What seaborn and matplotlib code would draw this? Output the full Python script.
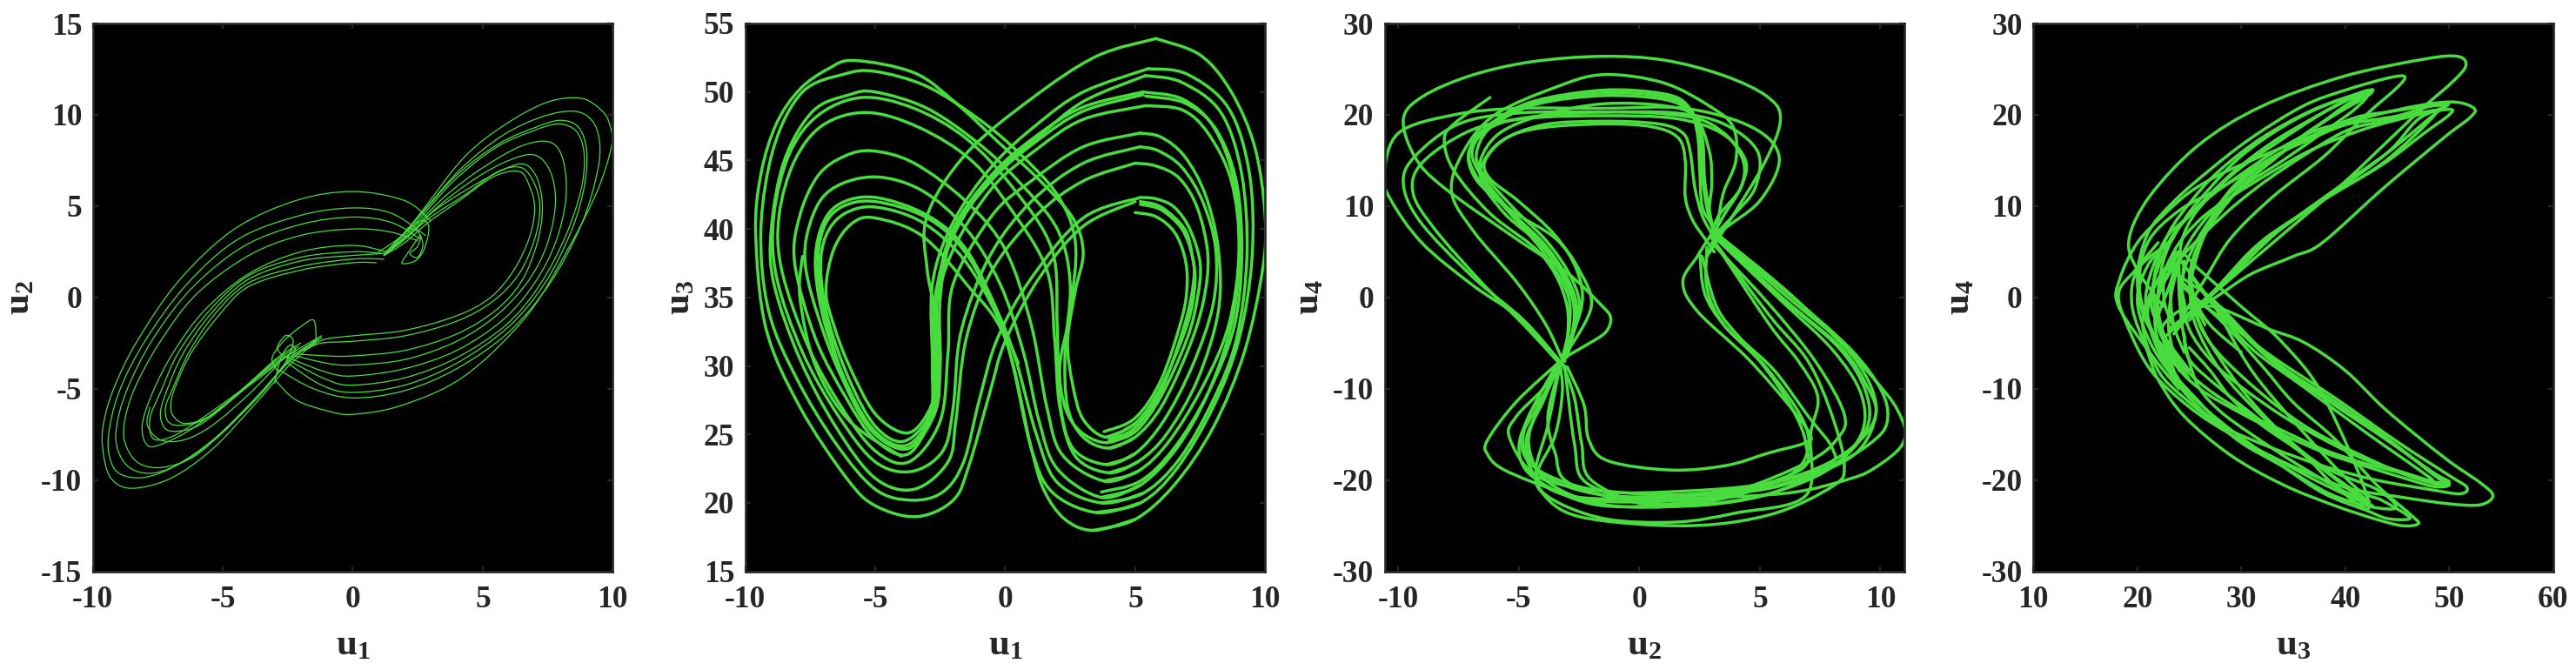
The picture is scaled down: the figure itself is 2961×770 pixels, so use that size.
import matplotlib
matplotlib.use("Agg")
import matplotlib.pyplot as plt
import matplotlib.patheffects as pe
from matplotlib.path import Path
import numpy as np
import pandas as pd
import seaborn as sns

# ---------- panel 1: u1 / u2, hand-read traces ----------
a1x=[-3,-2.2,-1,0,1.9,4.3,6.7,8.3,9.4,9.96,9.9,9.6,8.8,7.5,5.9,4.3,2.7,1.9,1]
a1y=[-4.5,-5.6,-6.2,-6.4,-5.9,-4.3,-1,2.7,5.8,8.3,9.4,10.2,10.9,10.7,9.5,7.7,4.8,3.4,2.5]
a2x=[-2.8,-1.5,0,2,4,6,7.6,8.8,9.4,9.5,9.2,8.5,7.3,5.8,4.2,2.7,1.5]
a2y=[-4,-5,-5.5,-5.1,-3.9,-1.9,0.8,4,6.8,8.5,9.7,10.2,9.9,8.9,7.1,4.7,2.7]
a3x=[-2.5,-1.2,0,2,4,6,7.4,8.4,8.9,9,8.7,8,7,5.6,4,2.6,1.3]
a3y=[-3.6,-4.8,-5.2,-4.8,-3.6,-1.6,0.8,3.6,6,8,9.3,9.7,9.3,8.4,6.7,4.5,2.5]
a4x=[-2.4,-1,0,2,4,5.9,7.2,8.2,8.8,8.9,8.6,7.9,6.9,5.5,3.9,2.5,1.2]
a4y=[-3.5,-4.5,-4.8,-4.4,-3.3,-1.5,0.7,3.4,6,7.9,9.1,9.5,9.1,8.2,6.4,4.2,2.4]
a5x=[-2.3,-1,0,2,4,5.8,7,7.8,8.2,8.1,7.6,6.5,5,3.6,2.4,1.3]
a5y=[-3.4,-4.1,-4.3,-3.9,-2.9,-1.2,0.8,3,5.4,7.5,8.5,8.3,7.1,5.6,3.9,2.4]
a6x=[-2.2,-1,0,2,4,5.6,6.8,7.5,7.8,7.6,7,6,4.7,3.3,2.2,1.2]
a6y=[-3.2,-3.6,-3.7,-3.4,-2.4,-0.9,1,3,5.2,6.9,7.8,7.5,6.5,5,3.5,2.3]
a7x=[-2.1,-1,0,2,4,5.5,6.5,7.1,7.3,7.1,6.6,5.8,4.5,3.1,2.1,1.2]
a7y=[-3.1,-3.2,-3.2,-2.9,-2,-0.7,0.9,3,4.9,6.5,7.3,7,6,4.7,3.3,2.3]
a8x=[-1.9,-1.2,0,2,4,5.4,6.4,7,7.2,7,6.5,5.6,4.3,3,2,1.2]
a8y=[-2.9,-2.5,-2.4,-2.1,-1.3,-0.2,1.3,3.2,4.9,6.2,7.1,6.9,5.6,4.4,3.2,2.3]
a9x=[-1.7,-1.1,0,2,4,5.3,6.2,6.8,7,6.8,6.4,5.4,4.1,2.9,2,1.2]
a9y=[-2.8,-2.3,-2.1,-1.8,-1,0,1.5,3.3,4.9,6.1,6.9,6.6,5.3,4.1,3,2.3]
a10x=[1.2,2,2.6,2.9,2.9,2.7,2.4,2,1.9,2.2,2.6,2.5,2.2,2.5,2.7,2.5,2.1]
a10y=[2.3,3.5,4.2,4,3.4,2.5,2,1.85,1.95,2.6,3.4,2.8,2.4,2.2,2.9,3.6,3.8]
b1x=[3,2,0,-2.2,-4.6,-6.7,-8.3,-9.2,-9.6,-9.6,-9.3,-8.5,-7,-5.4,-3.8,-2.5,-1.4]
b1y=[4.2,5.3,5.8,5.3,3.7,.9,-2.4,-5,-7,-8.5,-9.9,-10.45,-9.9,-8.3,-5.9,-3.8,-2.4]
b2x=[2.8,1.5,0,-2,-4.4,-6.4,-8,-9,-9.4,-9.3,-8.9,-8,-6.8,-5.3,-3.8,-2.5,-1.4]
b2y=[3.4,4.6,4.9,4.5,3.2,.7,-2.4,-5.2,-7.6,-9,-9.7,-9.85,-9.2,-7.7,-5.6,-3.6,-2.3]
b3x=[2.6,1.5,0,-2,-4.2,-6.2,-7.7,-8.7,-9.1,-9,-8.5,-7.6,-6.4,-5,-3.6,-2.4,-1.3]
b3y=[3.2,4.1,4.4,4,2.8,.5,-2.3,-5.1,-7.2,-8.5,-9.4,-9.6,-8.9,-7.4,-5.3,-3.4,-2.3]
b4x=[2.5,1.4,0,-2,-4,-6,-7.4,-8.4,-8.8,-8.7,-8.2,-7.3,-6.1,-4.8,-3.4,-2.4,-1.2]
b4y=[3.1,3.6,3.75,3.4,2.3,.2,-2.4,-5,-7,-8.2,-9.1,-9.3,-8.7,-7.1,-5.1,-3.3,-2.2]
b5x=[1.3,0,-2,-4,-5.7,-6.9,-7.7,-8.1,-7.9,-7.3,-6.2,-4.8,-3.4,-2.4,-1.2]
b5y=[2.5,2.85,2.5,1.3,-.7,-3,-5.2,-7,-8.1,-8,-7.2,-5.7,-4.2,-3.1,-2.1]
b6x=[1.2,0,-2,-4,-5.5,-6.7,-7.4,-7.8,-7.7,-7.1,-6.2,-4.6,-3.3,-2.3]
b6y=[2.4,2.5,2.2,1.2,-.7,-3,-5.2,-6.6,-7.7,-7.7,-7,-5.4,-4,-3]
b7x=[1.2,0,-2,-4,-5.4,-6.5,-7.1,-7.4,-7.2,-6.6,-5.8,-4.4,-3.2,-2.2]
b7y=[2.4,2.3,2,1,-.8,-3,-4.9,-6.3,-7.2,-7.3,-6.9,-5.3,-3.8,-2.9]
b8x=[1.2,0,-2,-4,-5.3,-6.3,-6.9,-7.2,-7.1,-6.6,-5.6,-4.2,-3,-2.1]
b8y=[2.1,2.1,1.7,.8,-.9,-3,-4.9,-6,-6.8,-7,-6.6,-5,-3.5,-2.7]
b9x=[0.9,0,-2,-4,-5.1,-6.2,-6.8,-7,-6.9,-6.4,-5.4,-4,-2.9,-2]
b9y=[1.9,1.9,1.5,.6,-.9,-3,-4.8,-5.8,-6.5,-6.9,-6.4,-4.7,-3.3,-2.5]
b10x=[-7.8,-7.9,-7.4,-6.5,-5.4,-4,-2.9]
b10y=[-6,-7,-7.8,-7.8,-7,-5.3,-3.7]
b11x=[-1.4,-1.5,-2,-2.6,-3,-3.1,-2.8,-2.4,-2.3,-2.6,-2.9,-2.5,-2.2,-2.4,-2.7,-2.9,-3]
b11y=[-2.4,-1.25,-1.6,-2.3,-3,-3.5,-4,-3,-2.3,-2.1,-2.8,-3.3,-2.9,-2.6,-3.1,-4,-4.7]
PANEL1=[(a1x,a1y),(a2x,a2y),(a3x,a3y),(a4x,a4y),(a5x,a5y),(a6x,a6y),(a7x,a7y),(a8x,a8y),(a9x,a9y),(a10x,a10y),
        (b1x,b1y),(b2x,b2y),(b3x,b3y),(b4x,b4y),(b5x,b5y),(b6x,b6y),(b7x,b7y),(b8x,b8y),(b9x,b9y),(b10x,b10y),(b11x,b11y)]

# ---------- panel 2: u1 / u3 ----------
c1x=[5,3,1.3,0,-.6,-1.4,-2,-3.4,-5,-6.1,-7.9,-9.2,-9.6,-9.4,-8.8,-7.9,-6.8,-5.8,-3.5,-1.9,-.3,1.3,2.6,3,2.7,2.4,2.6,3,3.9,5]
c1y=[42,40.2,36.4,31.8,28,22.7,20.2,19,19.8,21.8,27,32.7,39.6,44,47.7,50.2,51.7,52.3,51.4,49.2,46.4,43.6,40.8,38.3,35.5,31.8,28.6,26.1,24.8,25.8]
c2x=[5.2,3,1,-.3,-1,-1.6,-2.4,-3.6,-5,-6.5,-8,-9.1,-9.4,-8.9,-7.8,-6.2,-5,-3,-1,.5,2,2.7,2.5,2.1,2.3,2.9,3.9,5]
c2y=[42.3,40.8,36.4,32,27.5,23,20.8,20.2,21,24.3,29,34,40,46,50,51.3,51.5,50.4,48,45.6,42.5,39,34,30,27,25.2,24.4,25.2]
c3x=[5,3,1.2,-.5,-1.5,-1.9,-2.2,-3.5,-5,-6.5,-7.9,-8.9,-9,-8.5,-7.4,-6,-5,-3,-1,.5,2,2.5,2.3,2.4,3,4,5]
c3y=[44.8,43.5,41,37,32,26,23,21,21.8,25.5,30.5,36,40,45,48.6,49.8,50,48.8,46.2,43.5,40,36,31,27,24.8,24,24.8]
c4x=[5.2,3,1,-.6,-1.7,-2,-2.4,-3.6,-5,-6.4,-7.8,-8.8,-8.9,-8.3,-7.2,-5.5,-3.5,-1.5,.3,1.8,2,2.1,2.6,3.9,5]
c4y=[46,44.8,42,38,32.5,27,23.8,22.3,23,26.3,31,36.5,41,45.5,48.3,49.6,48.8,46.6,43,38.5,33,27.5,24,22.8,23.6]
c5x=[5.2,3,1,-.5,-2,-2.2,-2.5,-3.7,-5,-6.3,-7.6,-8.6,-8.7,-8.1,-7,-5.3,-3.3,-1.3,.2,1.6,1.9,2.1,2.7,4,5.1]
c5y=[47,46,43.5,41,36,31,26,23,23.8,27,31.5,37,41,45,47.6,48.5,47.4,45,41.5,37,32,27,23.4,22.2,23]
c6x=[5.4,3,1.2,-.5,-2,-2.7,-2.6,-2.7,-3.7,-5,-6.1,-7.3,-8.1,-7.9,-7.2,-6.2,-5.1,-3.5,-1.5,0,1,1.6,2.2,3.8,5.1]
c6y=[49,48,45.8,43,38.5,34,30,27,23.6,24.6,27.6,32,37.5,41,43.9,45.3,45.7,44.8,42,38.5,33,27,23.5,21.6,22.3]
c7x=[5.4,3,1.2,-.5,-2,-2.7,-2.7,-2.8,-3.7,-5,-6,-7,-7.7,-7.4,-6.6,-5,-3.2,-1.5,-.2,.7,1.3,2,3.7,5.2]
c7y=[51.2,49.3,46.6,43.8,39.5,35,30,26.8,24,25,28,32.5,37.5,41,43,43.8,42.8,40,36,31,26,22.5,20.4,21.3]
c8x=[5.3,3,1.2,-.5,-2,-2.6,-2.6,-2.8,-3.8,-5,-6,-6.9,-7.3,-7.1,-6.4,-5,-3,-1.5,-.3,.4,1.2,2,3.7,5.3]
c8y=[50,48.9,46.8,44,40,35.5,30,26.5,24.2,25.2,28.3,32.8,37,40,41.8,42.3,41,38.5,34,30.5,25,21.5,20,20.7]
c9x=[5.5,3,1.2,-.5,-2,-2.8,-2.8,-2.9,-3.9,-5,-6,-6.8,-7.1,-6.9,-6.2,-5,-3.2,-1.6,-.3,.3,1,1.8,3.5,5.2]
c9y=[51.7,50,47.6,44.6,40.5,36,30,26.5,24.5,25.6,29,33.3,37,39.5,41.1,41.6,40.5,37.8,33.6,30,24,20.8,19.3,20]
c10x=[5.8,3.5,1,-1.5,-3,-3,-2.6,-2.6,-3,-3.8,-5,-6,-6.6,-6.9,-6.6,-5.9,-5,-3.2,-1.5,0,1,1.5,2.3,3.4,5]
c10y=[53.9,52.6,49.5,45.5,41,37,33,29,26.5,25.1,26.5,30,33,35.5,38.5,40.4,40.8,39.5,36,32,24,20.9,18.8,18,18.8]
c11x=[-7.8,-7.9,-7.3,-6,-4]
c11y=[38,35,30,26,23.4]
c12x=[5.3,3,1.2,-.5,-2,-2.5,-2.5,-2.7,-3.7,-5,-6,-6.8,-7.2,-7,-6.3,-5,-3,-1.5,-.3,.5]
c12y=[49.8,48.6,46.4,43.6,39.7,35,30,26.6,24,25,28,32.7,37,40,41.6,42,40.8,38.2,33.8,30.2]
d1x=[3.4,5,6.5,8,9.2,9.9,10,9.6,8.7,7.5,5.8]
d1y=[18,18.8,21.3,25.5,31,37,41,46,50,52.7,53.9]
d2x=[3.5,5.2,6.6,8,9,9.5,9.4,8.6,7,5.5]
d2y=[19.3,20,22.5,27,32,38,44,48.8,51.3,51.7]
d3x=[3.7,5.3,6.7,8,8.9,9.3,9.1,8.3,6.8,5.4]
d3y=[20,20.7,23.2,27.5,32,38,44,48.5,50.7,51.2]
d4x=[3.7,5.2,6.6,7.8,8.7,9,8.8,8,6.8,5.3]
d4y=[20.4,21.3,24,28,33,38,43.5,47.5,49.5,50]
d5x=[3.8,5.1,6.3,7.6,8.6,9,8.7,7.8,6.8,5.4]
d5y=[21.6,22.3,24.5,28.5,33,38.5,43.5,47,48.7,49]
d6x=[4,5.1,6.2,7.4,8.2,8.2,7.7,6.9,6,5.2]
d6y=[22.2,23,25,29,34,38.5,42.5,45.3,46.7,47]
d7x=[3.9,5,6.1,7.2,8,8.1,7.6,6.8,5.9,5.2]
d7y=[22.8,23.6,26,30,34.5,38.5,42,44.5,45.7,46]
d8x=[4,5,6,7,7.6,7.8,7.4,6.7,5.8,5]
d8y=[24,24.8,27,31,34.5,38,41.5,43.7,44.6,44.8]
d9x=[3.9,5,6,7,7.4,7.5,7.1,6.5,5.8,5.2]
d9y=[24.4,25.2,27.8,32,35,37.5,40,41.6,42.2,42.3]
d10x=[3.9,5,6,7,7.3,7.2,6.9,6,5.2]
d10y=[24.8,25.8,28.5,33,36,38,40,41.6,42]
d11x=[3.8,5,6,6.8,7,6.9,6.5,5.8,5]
d11y=[25.2,26.2,29,33.5,36,38,39.8,40.9,41.2]
d12x=[3.7,5.2,6.5,7.8,8.8,9.1,8.9,8.1,6.9,5.4]
d12y=[20.8,21.6,24,28,32.8,38,43.4,47.3,49.2,49.7]
d13x=[4,5,6,6.9,7.25,7.2,6.8,6,5.2]
d13y=[24.6,25.5,28.2,33,36.2,38,40,41.4,41.8]
PANEL2=[(c1x,c1y),(c2x,c2y),(c3x,c3y),(c4x,c4y),(c5x,c5y),(c6x,c6y),(c7x,c7y),(c8x,c8y),(c9x,c9y),(c10x,c10y),(c11x,c11y),(c12x,c12y),
        (d1x,d1y),(d2x,d2y),(d3x,d3y),(d4x,d4y),(d5x,d5y),(d6x,d6y),(d7x,d7y),(d8x,d8y),(d9x,d9y),(d10x,d10y),(d11x,d11y),(d12x,d12y),(d13x,d13y)]

# ---------- panel 3: u2 / u4 ----------
e1x=[-3.2,-2.2,-1.4,-1.2,-1.6,-3,-5.1,-8.1,-9.3,-9.8,-9,-7,-4.5,-1.6,1,3.5,5.3,5.85,5.2,3.6,2.8]
e1y=[-6.7,-5.2,-3.8,-2.2,-.8,2.7,6.4,12,15.3,19.5,22,24.3,25.8,26.4,26,24.3,22,19.5,14.8,7.8,4.5]
e2x=[-3.4,-5.1,-6.9,-9,-10.3,-10.6,-10,-7.7,-5.1,-1.6,1.9,4.7,5.8,5,3.35,2.8]
e2y=[-6.7,-2,1.3,5.9,10.6,13.4,18,20,20.7,20.7,20.7,18.6,15.3,10.6,7.1,4.5]
e3x=[-3.3,-4.8,-6.9,-9.1,-9.8,-9.3,-7.5,-5,-1.5,1.5,3.5,4.9,4.8,3.9,3]
e3y=[-7,-2.5,2.2,8.3,12.5,15.5,19,20.2,20.3,20.2,19,16,12,9,6.5]
e4x=[-3.4,-4.8,-6.5,-8.5,-9.4,-9,-7,-4.7,-1.5,1.5,3.4,4.4,4.2,3.5,3]
e4y=[-7,-3,1.5,7.5,11.5,14.8,18.3,19.6,19.9,19.6,18,15,12,9,6.5]
e5x=[-6.2,-7.7,-8.1,-7.7,-6.2,-4,-3,-3.1]
e5y=[21.9,19,17.2,13.9,9.2,4.5,-1,-7]
e6x=[-3.2,-3.9,-5.1,-6.9,-7.8,-7.3,-6,-3.5,-1.5,1,3,3.9,4,3.5,3.3,3.2]
e6y=[-6.8,-2.9,1.7,7.3,11.6,16,20,23,24.4,23.5,20.8,18.6,15,11.6,9,7]
e7x=[-3,-2.7,-3,-4,-5.6,-6.9,-7,-6.3,-4.5,-1.5,1,2,2.4,2.5,2.6,3,3.3]
e7y=[-6.5,-2,1.3,5.5,9.2,13.9,16.5,18.8,21.4,22.7,22.3,21,18,14,10,8,6.5]
e8x=[-3.1,-2.5,-2.8,-3.8,-5.3,-6.6,-6.7,-6,-4.2,-1.5,1,2.1,2.6,2.7,2.9,3.1]
e8y=[-6.5,-1.5,2,6,10,14,16.5,19,21.2,22.1,21.7,20.3,17.5,13,9.5,7]
e9x=[-3.2,-2.4,-2.6,-3.5,-5,-6.2,-6.4,-5.5,-4,-1.5,.5,1.6,1.9,1.9,2.2,2.7,3.1]
e9y=[-6.5,-1,3,6.8,10.5,13,15,17.5,18.6,19,18.7,17.5,15,11,8.5,6.5,5]
e10x=[-3,-2,-2.5,-3.5,-5.3,-6.8,-7,-5.5,-1.5,2,3.5,4.3,4.2,3.3,3]
e10y=[-6,-1,3,6.5,9.5,13,16.5,19.3,20.3,19.8,18,15,12,9,7]
e11x=[-3.1,-2.7,-2.9,-3.8,-5.2,-6.4,-6.6,-5.8,-4,-1.5,1,2.3,2.9,3,2.9,3.1]
e11y=[-6.6,-2.5,1,5,9,12.5,15,18,20,21.2,21,19.8,16,12.5,9.5,7]
e12x=[-3.2,-2.9,-3,-4,-5.3,-6.3,-6.6,-5.8,-4,-1.5,.8,1.8,2.1,2.3,2.6,3]
e12y=[-6.6,-3,.5,5,9,12,14,17,18.9,19.3,19,18,16,12,9,7]
e13x=[-3,-2.6,-2.9,-3.9,-5.4,-6.7,-6.9,-6.1,-4.4,-1.5,1,2.1,2.5,2.6,2.8,3.1]
e13y=[-6.5,-1.8,1.6,5.7,9.6,13.9,16.5,18.9,21.3,22.4,22,20.6,17.8,13.5,9.8,7]
f1x=[3.2,6.2,8.8,10.2,10.7,11.03,10.8,9.8,8.8,6.2,1.9,-2,-3.4,-5.6,-6.3,-6.3,-5.1,-3.3]
f1y=[7,.5,-6.2,-10.4,-12.3,-14.6,-16.5,-18.6,-19.8,-21.4,-22,-22,-21.2,-18.9,-17.2,-15.6,-11.4,-7]
f2x=[3.3,6.2,8.5,9.7,9.6,8,5.4,1.9,-1.6,-4.2,-4.9,-4.1,-3.3]
f2y=[6.5,-.1,-5.3,-10.4,-14.2,-17.9,-20.3,-21.2,-21.2,-18.9,-15.6,-11.4,-7.2]
f3x=[3.1,6,8.7,10,10.3,9.8,8,5,1.5,-2,-4.3,-5.4,-5.1,-4,-3.2]
f3y=[7,.8,-5.5,-10,-13.2,-15.5,-18.4,-20.6,-21.6,-21,-19.5,-15.3,-13,-10,-7]
f4x=[3.2,6,8.4,9.5,9.8,9,7,4,1,-2,-4,-4.8,-4.6,-3.8,-3.3]
f4y=[6.5,-.2,-5.6,-10,-13,-17,-19.6,-21.5,-22.3,-22.2,-20.5,-16.5,-13,-10,-7]
f5x=[3,5.4,7,8,8.5,8,5.4,1.9,-2.5,-4.1,-4.2,-3.5,-3.2,-3.3]
f5y=[6.5,-2,-7,-13,-18.4,-20.7,-23.8,-25,-24,-21.2,-18.9,-15.1,-10.4,-7.2]
f6x=[3,5.4,6.6,7.4,7.1,6.9,4,1.5,-1.5,-3.8,-4.3,-3.8,-3.3]
f6y=[6.5,-3,-7,-10.9,-15,-21.7,-23.6,-24.6,-24.2,-21.8,-19,-14,-7.5]
f7x=[3,5.3,7.3,8.5,8.2,7,4,1,-2,-4.4,-5,-4.5,-3.4]
f7y=[6,-.5,-7,-12.8,-15.5,-18,-21.2,-22.7,-22.6,-19.7,-16.5,-12.5,-7.2]
f8x=[3,2.4,1.8,2.4,4.5,6.2,7.1,6.8,5.4,3.6,1.3,-1.3,-2.1,-2.3,-3]
f8y=[7,4.5,1.7,-1.5,-6.7,-11.8,-15.1,-16,-17,-18.4,-18.9,-17.9,-15.6,-11.8,-7.6]
f9x=[2.8,2.8,3.5,5.2,6.7,7,6.2,3.5,.5,-2,-2.4,-2.7,-3.2]
f9y=[5.5,1,-3,-7.5,-13,-16.5,-19.5,-22,-22.8,-20,-16,-11,-7.2]
f10x=[2.5,2.7,3.5,5,6.3,6.9,6.6,3,.5,-2.2,-2.7,-3.1]
f10y=[5,.5,-3,-7,-12,-16,-19,-22,-22.5,-20.3,-16,-7.5]
f11x=[2.6,3.2,4.2,5.6,7,8,7.8,5,1,-2.8,-3.5,-3.8,-3.3]
f11y=[4.5,-1,-4.5,-8,-13,-16.5,-18.5,-21.8,-22.8,-20.5,-17,-13,-7.5]
f12x=[3.3,6,8.3,9.4,9.4,8,5.4,2,-1.6,-4,-4.7,-4,-3.3]
f12y=[6.5,-.3,-5.6,-10.4,-14.5,-18.4,-20.9,-21.7,-21.6,-19.4,-15.8,-11.4,-7.2]
f13x=[3.2,5.9,8,9.2,9.2,7.8,5.2,2,-1.4,-3.8,-4.6,-4.1,-3.3]
f13y=[6.4,-.4,-5.7,-10.6,-15,-18.9,-21.6,-22.8,-22.7,-20.2,-16,-11.6,-7.2]
PANEL3=[(e1x,e1y),(e2x,e2y),(e3x,e3y),(e4x,e4y),(e5x,e5y),(e6x,e6y),(e7x,e7y),(e8x,e8y),(e9x,e9y),(e10x,e10y),(e11x,e11y),(e12x,e12y),(e13x,e13y),
        (f1x,f1y),(f2x,f2y),(f3x,f3y),(f4x,f4y),(f5x,f5y),(f6x,f6y),(f7x,f7y),(f8x,f8y),(f9x,f9y),(f10x,f10y),(f11x,f11y),(f12x,f12y),(f13x,f13y)]

# ---------- panel 4: u3 / u4 ----------
g1x=[22.5,20,19.2,21.2,25.9,31.9,39.8,47.6,50.8,51.6,50.4,47.6,43.7,39.8,34.6,27.9,25,23.5]
g1y=[-1,3,6.4,11.1,16.7,20.9,24.2,26.1,26.4,25.4,23.7,20.9,16.7,12.5,7.5,1,-2,-4]
g2x=[24,21.5,18.2,18.3,20,22.5,25,28,32,37,42,47,50.5,52.4,52,49.6,43.7,37.8,35,31,27.9,24.8]
g2y=[-10,-6.5,-1,2,6,9,11.5,13.5,15.5,17.8,19.7,21,21.4,20.7,19.7,17.6,12,6,4.5,2.6,.3,-2]
g3x=[24.5,21,20,21,23.5,27,31,36,40,44,45.7,45,42,38,33,29,26.5,24.4]
g3y=[-8,-3,2,7,10.5,14,17.5,21,22.7,24,24.2,23,20,15.5,11,6.5,2,-2]
g4x=[25,22,20.8,22.5,25,29,33,37,41,42.3,40,37,33,29.5,26.5,25.2,25.5,27,30]
g4y=[-9,-5,0,6,9,13.5,17,19.7,22.2,22.6,21,18.5,15,11.5,7,3.5,0,-3,-6]
g5x=[25,22.5,21.3,23,25.5,29.5,33.5,38,42,42.3,39,36,33,29.8,27,25.6,25.2,26.5]
g5y=[-8,-4,0,6,9.5,13.8,17,20.3,22.5,22.2,20,17.8,15,12,8,4,.5,-3]
g6x=[24,21.5,20.2,21,24,28,31,34,36,40,44,46,49,49.8,47,44,38,32,28,25]
g6y=[-9,-4,1,6,9.5,12,14,16,17,18.9,19.6,20.2,21.2,21,19.5,15.8,10.8,6.2,1.5,-2.5]
g7x=[25,22.7,22,23.5,26,29,33,37,42,47,50,50,47.6,43.5,37.8,31.9,27.9,24.8]
g7y=[-9,-4.5,0,5,8.5,11,13.8,16.3,18.5,20,20.6,20,18,14.5,10.6,5.9,1.3,-2]
g8x=[24.5,23.5,23.2,24,26.7,29.9,33.8,39.8,43.7,47.6,48.6,43.7,37.8,31.9,27.9,24.8,22.6]
g8y=[-6,-3,1,4,7.3,10.6,13.9,18.1,19.3,20.2,20,14.8,10.6,5.9,1.3,-2,-4.4]
g9x=[24,23,23.8,25.5,28.5,32,37,41,44,47,49.5,48.5,44,39,33.5,29,25.5,23]
g9y=[-8,-3,3,7,11,14.5,17.8,19.7,20.3,20.8,21,20,15.8,11.8,7.2,2.3,-1.2,-3.5]
g10x=[23.5,22,22.5,24.5,27,30,34,38,42,41,38,34,30,27,24.8,24.2,24.8]
g10y=[-8,-2,4,8.5,12,15.5,18.7,21,22.3,20.7,18.2,15,12,8.5,4,0,-3]
g11x=[24,22,21.6,23,25.5,28,32,37,42,42.2,38,34,30,27.5,25.6,25,26]
g11y=[-7,-3,2,7,11,14,17.5,20.6,22.6,22.3,19.3,16,13,9.5,5,1.5,-2]
g12x=[24.6,24,24.5,26.5,30,34,38,43,47,48.5]
g12y=[-1,3,7,10.5,13.5,16.5,18.6,19.5,20.2,20.5]
h1x=[22,19.8,18.2,19,21.3,25,29,34,40,45,50,53,54.2,53,49.6,44,40,36,32.5,28,26,24,22.5,22.4]
h1y=[6,3,.5,-3,-8,-12,-15,-18,-20.8,-21.8,-22.6,-22.7,-21.7,-20.3,-17.6,-12.4,-8,-4.9,-3.4,-1.2,-1,-1.5,-3,-4]
h2x=[23,20,19.5,21,22,24.5,29,34,39,43,45.5,47,46.5,43,39,35,32,28,24]
h2y=[6,3,-1,-6,-9,-13,-17.3,-20.5,-22.8,-24.3,-25,-24.8,-24,-20.5,-15.5,-11.5,-7.5,-2.5,1.5]
h3x=[23,21,20,21.5,24.5,29,34,38,42,44,46,45.9,43.5,41,36,31,27.5]
h3y=[6,3.5,-.5,-5.5,-10,-14.5,-18.5,-21.5,-23.3,-24.2,-24.3,-23.8,-22.2,-20.8,-14.8,-8,-1]
h4x=[24,22,21,22.5,25,29,33,38,42.5,41,37,32,28,25.6,25]
h4y=[5,2,-2,-7,-11,-15,-17.5,-20.5,-22.8,-21.6,-18,-13,-8,-3,1]
h5x=[24.5,22.3,21.7,23,26,29.5,34,38.5,42.4,44.9,43,38,34,30,26.5,25.2]
h5y=[5,1,-3,-7.5,-11.5,-15.5,-18.5,-21.5,-22.9,-23,-21,-18.6,-15,-10,-4,0]
h6x=[23.5,21.5,20.5,22,24.5,28,33,38,43,48,51,51.7,50,45,39,33,28.5,26,24.5]
h6y=[4,1,-3,-8,-11,-14,-16.5,-18.5,-20,-21,-21.5,-20.8,-19.5,-15.8,-11,-6.5,-2.6,-.5,1.5]
h7x=[24,22.3,21.7,23.5,26,30,34,38,42,46,48.5,50,48.5,44,38,32,27.5,24.5,23.2]
h7y=[5,1,-2,-7,-10,-12.7,-15,-17,-18.5,-19.9,-20.7,-20.5,-19.3,-15.6,-11,-6,-.5,2,3]
h8x=[24,23,22,24,26.5,30,34,38,42,46,48.5,50,48.5,44,39,33,28,25.5,24.2]
h8y=[4,1,-3,-7,-9.8,-12.4,-14.6,-16.7,-18.2,-19.4,-20.2,-20.2,-19.2,-15.6,-11.8,-7,-1.5,2,4]
h9x=[24.5,24.3,25,27,30,34,38,42,46,48.4,47,42,36,31,27.4,25.4]
h9y=[4,0,-3.5,-6.8,-9.8,-13,-15.6,-17.8,-19.3,-20.1,-18.8,-14.8,-9.8,-5.6,-1,2]
h10x=[25,25.4,27,31,36,41,46,49.7,48,44,39,33,28]
h10y=[3,-1,-5,-9.6,-14,-17,-19.5,-20.6,-19,-15.4,-11.4,-6.8,-1]
h11x=[23.6,22.6,22.7,24,26,30,34,38,42.3,39,36,32,29,27,25]
h11y=[-3.5,-.5,3,5,3,-1,-5,-11,-22.7,-20.6,-17.2,-14,-11,-8,-5.5]
h12x=[24,24,24.3,25,26,28,31,35,39,42.3,40,36,33,28,25,24.5]
h12y=[5,1,-3,-7,-10,-12.5,-15,-18,-20.7,-22.4,-20.5,-17.2,-14.5,-10,-6.8,-4]
PANEL4=[(g1x,g1y),(g2x,g2y),(g3x,g3y),(g4x,g4y),(g5x,g5y),(g6x,g6y),(g7x,g7y),(g8x,g8y),(g9x,g9y),(g10x,g10y),(g11x,g11y),(g12x,g12y),
        (h1x,h1y),(h2x,h2y),(h3x,h3y),(h4x,h4y),(h5x,h5y),(h6x,h6y),(h7x,h7y),(h8x,h8y),(h9x,h9y),(h10x,h10y),(h11x,h11y),(h12x,h12y)]

# ---------- axis text ----------
xnames=['u_1','u_1','u_2','u_3']
ynames=['u_2','u_3','u_4','u_4']
xlims=[(-10,10),(-10,10),(-10.57,11),(10,60)]
ylims=[(-15,15),(15,55),(-30,30),(-30,30)]
xticks=[[-10,-5,0,5,10],[-10,-5,0,5,10],[-10,-5,0,5,10],[10,20,30,40,50,60]]
yticks=[[-15,-10,-5,0,5,10,15],[15,20,25,30,35,40,45,50,55],[-30,-20,-10,0,10,20,30],[-30,-20,-10,0,10,20,30]]

W,H=2961,770
lefts=[106.7,856.7,1591.7,2337.3]
AW,AH=597.5,629.7
TOP=27
INK='#262626'
GREEN='#48DC3E'
widths=[0.9,2.5,2.5,2.5]
ylabx=[-0.108,-0.092,-0.112,-0.109]


class RoundedStroke(pe.AbstractPathEffect):
    """Stroke a line through its own vertices with round (Catmull-Rom) joins."""
    def draw_path(self, renderer, gc, tpath, affine, rgbFace=None):
        p = np.asarray(tpath.vertices, float)
        if len(p) < 3:
            renderer.draw_path(gc, tpath, affine, rgbFace)
            return
        q = np.vstack([p[0], p, p[-1]])
        verts = [p[0]]
        codes = [Path.MOVETO]
        for j in range(1, len(q) - 2):
            verts += [q[j] + (q[j + 1] - q[j - 1]) / 6, q[j + 1] - (q[j + 2] - q[j]) / 6, q[j + 1]]
            codes += [Path.CURVE4] * 3
        renderer.draw_path(gc, Path(np.array(verts), codes), affine, rgbFace)


sns.set_theme(style='white')
plt.rcParams.update({
    'font.family':['Liberation Serif','DejaVu Serif'],'font.weight':'bold',
    'axes.unicode_minus':False,
    'mathtext.fontset':'custom','mathtext.rm':'Liberation Serif:bold','mathtext.bf':'Liberation Serif:bold',
    'mathtext.it':'Liberation Serif:bold','mathtext.default':'rm'})

fig=plt.figure(figsize=(W/100,H/100),dpi=100,facecolor='white')
for i,traces in enumerate([PANEL1,PANEL2,PANEL3,PANEL4]):
    ax=fig.add_axes([lefts[i]/W,1-(TOP+AH)/H,AW/W,AH/H])
    ax.set_facecolor('black')
    frames=[pd.DataFrame({'x':tx,'y':ty,'trace':k}) for k,(tx,ty) in enumerate(traces)]
    df=pd.concat(frames,ignore_index=True)
    sns.lineplot(data=df,x='x',y='y',units='trace',estimator=None,sort=False,color=GREEN,
                 linewidth=widths[i],solid_joinstyle='round',ax=ax,legend=False)
    for ln in ax.lines:
        ln.set_path_effects([RoundedStroke()])
    ax.set_xlim(*xlims[i]); ax.set_ylim(*ylims[i])
    ax.set_xticks(xticks[i]); ax.set_yticks(yticks[i])
    ax.tick_params(axis='both',which='major',direction='in',length=4.5,width=1.6,color=INK,
                   labelsize=25.5,labelcolor=INK,top=True,right=True,bottom=True,left=True)
    ax.tick_params(axis='x',pad=12); ax.tick_params(axis='y',pad=9)
    for s in ax.spines.values():
        s.set_color(INK); s.set_linewidth(1.9); s.set_visible(True)
    ax.set_xlabel('$'+xnames[i]+'$',fontsize=31,color=INK)
    ax.set_ylabel('$'+ynames[i]+'$',fontsize=31,color=INK)
    ax.xaxis.set_label_coords(0.5,-0.105)
    ax.yaxis.set_label_coords(ylabx[i],0.5)
fig.savefig('out.png',dpi=100,facecolor='white')
